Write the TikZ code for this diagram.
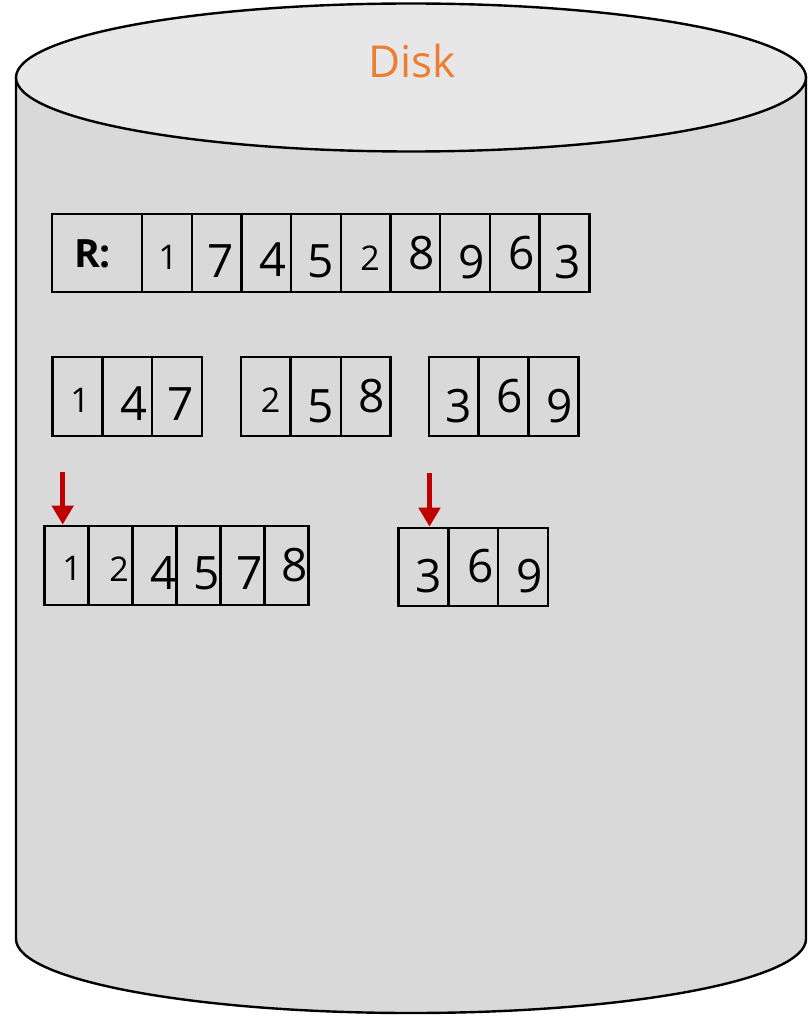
\documentclass[tikz,border=0pt]{standalone}
\usepackage{fontspec}
\setmainfont{Open Sans}
\usetikzlibrary{arrows.meta}
\definecolor{diskbody}{HTML}{D9D9D9}
\definecolor{disktop}{HTML}{E7E7E7}
\definecolor{disklabel}{HTML}{ED7D31}
\definecolor{ptrred}{HTML}{C00000}
\tikzset{
  cell/.style={draw=black, line width=2.4pt, inner sep=0pt, minimum height=79pt},
  digit/.style={inner sep=0pt, font=\fontsize{#1}{#1}\selectfont},
  ptr/.style={ptrred, line width=5.5pt, -{Triangle[length=19pt,width=21pt]}}
}

\begin{document}
\begin{tikzpicture}[x=1pt, y=-1pt]
\useasboundingbox (0,0) rectangle (808,1016);
% the disk
\draw[fill=diskbody, line width=2.4pt] (16,77.5) -- (16,939)
  arc[start angle=180, end angle=360, x radius=395pt, y radius=74pt] -- (806,77.5) -- cycle;
\draw[fill=disktop, line width=2.4pt] (411,77.5) ellipse[x radius=395pt, y radius=74pt];
\node[digit=44, text=disklabel] (disk) at (412,61) {Disk};

% relation R
\node[cell, minimum width=90pt, minimum height=78pt] (rlab) at (97,253) {};
\node[digit=39, font=\fontsize{39}{39}\bfseries] (rname) at (92.5,254) {R:};
\foreach \v/\dx/\dy/\s [count=\i] in {1/168/257/34, 7/220.7/261/46, 4/273/259.5/47,
    5/321/261/46, 2/370/258/34, 8/422/253.5/46, 9/472/262.5/46, 6/522/253.5/46, 3/568/262.5/46}{
  \node[cell, minimum width=49.7pt, minimum height=78pt] (r\i) at ({142+49.7*(\i-0.5)},253) {};
  \node[digit=\s] (rd\i) at (\dx,\dy) {\v};
}

% sorted runs
\foreach \v/\cx/\dx/\dy/\s [count=\i] in {1/77.5/80/400.5/34, 4/127.3/133.6/404/47, 7/177/181/404.5/46,
    2/265.7/270.7/400.5/34, 5/316/321/406/46, 8/365.7/372/396.5/46,
    3/453.8/458.6/406/46, 6/503.8/510/396.5/46, 9/553.6/560/406/46}{
  \node[cell, minimum width=49.7pt] (s\i) at (\cx,396.5) {};
  \node[digit=\s] (sd\i) at (\dx,\dy) {\v};
}

% merged run
\foreach \v/\dx/\dy/\s [count=\i] in {1/72.2/568.7/34, 2/119/569/34, 4/163.4/573/46,
    5/206.5/573/46, 7/250/573/46, 8/295/565.5/46}{
  \node[cell, minimum width=44pt, minimum height=79.3pt] (m\i) at ({44.5+44*(\i-0.5)},565.4) {};
  \node[digit=\s] (md\i) at (\dx,\dy) {\v};
}
\foreach \v/\dx/\dy/\s [count=\i] in {3/428.4/576/46, 6/480.8/566.5/46, 9/530/576/46}{
  \node[cell, minimum width=49.8pt, minimum height=78.3pt] (n\i) at ({398.5+49.8*(\i-0.5)},567) {};
  \node[digit=\s] (nd\i) at (\dx,\dy) {\v};
}

% read pointers
\coordinate (p1) at (62.7,471.7);
\coordinate (p2) at (429.5,473);
\draw[ptr] (p1) -- (p1 |- m1.north);
\draw[ptr] (p2) -- (p2 |- n1.north);
\end{tikzpicture}
\end{document}
